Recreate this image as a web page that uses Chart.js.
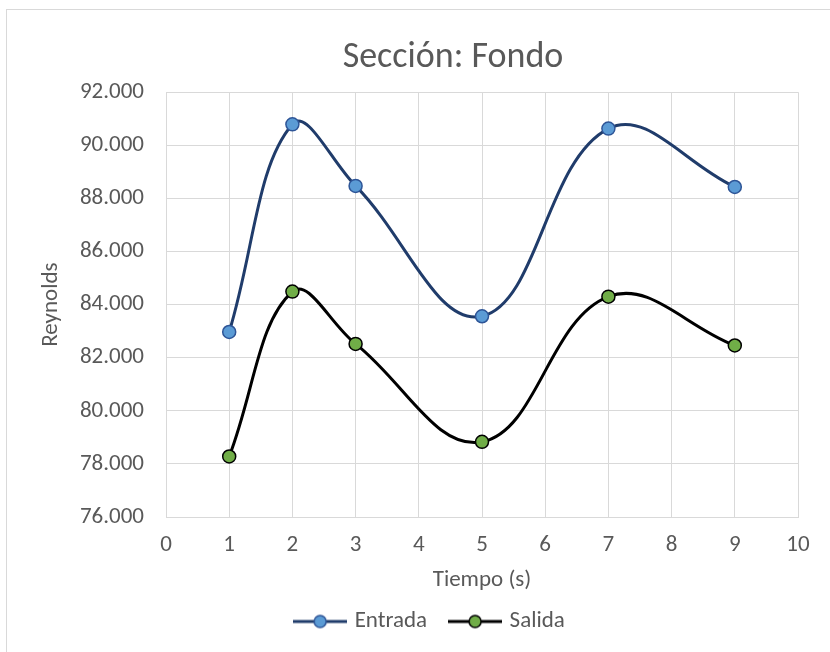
<!DOCTYPE html>
<html lang="es">
<head>
  <meta charset="UTF-8" />
  <title>Sección: Fondo</title>
  <script src="https://cdn.jsdelivr.net/npm/chart.js"></script>
  <style>
    html, body { margin: 0; padding: 0; background: #fff; }
    #wrap { width: 830px; height: 652px; }
  </style>
</head>
<body>
  <div id="wrap"><canvas id="reynoldsChart" width="830" height="652"></canvas></div>

  <script>
    // datos
    const tiempo = [1, 2, 3, 5, 7, 9];
    const entrada = [82970, 90790, 88470, 83560, 90630, 88430];
    const salida = [78280, 84490, 82520, 78830, 84300, 82460];
    const xTicks = [0, 1, 2, 3, 4, 5, 6, 7, 8, 9, 10];
    const yTicks = [76000, 78000, 80000, 82000, 84000, 86000, 88000, 90000, 92000];

    const FONT = "Carlito, Lato, sans-serif";
    const GREY = "#595959";
    const GRID = "#d9d9d9";

    function fmtMiles(v) {
      return String(v).replace(/\B(?=(\d{3})+(?!\d))/g, ".");
    }

    // icono de leyenda: línea con marcador
    function legendIcon(lineColor, fill, stroke) {
      const c = document.createElement("canvas");
      c.width = 54; c.height = 16;
      const g = c.getContext("2d");
      g.strokeStyle = lineColor;
      g.lineWidth = 3;
      g.beginPath(); g.moveTo(0, 8); g.lineTo(54, 8); g.stroke();
      g.beginPath(); g.arc(27, 8, 6, 0, Math.PI * 2);
      g.fillStyle = fill; g.fill();
      g.lineWidth = 1.5; g.strokeStyle = stroke; g.stroke();
      return c;
    }
    const icons = [
      legendIcon("#203c6b", "#5b9bd5", "#2e5597"),
      legendIcon("#000000", "#70ad47", "#000000")
    ];

    const framePlugin = {
      id: "frame",
      afterLayout(chart) {
        // en Excel título y leyenda quedan algo a la derecha del centro
        chart.titleBlock.left += 54;
        chart.titleBlock.right += 54;
        chart.legend.left += 32;
        chart.legend.right += 32;
      },
      beforeDraw(chart) {
        const ctx = chart.ctx;
        ctx.save();
        ctx.strokeStyle = GRID;
        ctx.lineWidth = 1;
        ctx.strokeRect(6.5, 9.5, 1000, 1000);
        ctx.restore();
      }
    };

    const toPoints = ys => tiempo.map((t, i) => ({ x: t, y: ys[i] }));

    new Chart(document.getElementById("reynoldsChart"), {
      type: "line",
      data: {
        datasets: [
          {
            label: "Entrada",
            data: toPoints(entrada),
            borderColor: "#203c6b",
            borderWidth: 3,
            pointBackgroundColor: "#5b9bd5",
            pointBorderColor: "#2e5597",
            pointBorderWidth: 1.5,
            pointRadius: 6.5,
            tension: 0.4
          },
          {
            label: "Salida",
            data: toPoints(salida),
            borderColor: "#000000",
            borderWidth: 3,
            pointBackgroundColor: "#70ad47",
            pointBorderColor: "#000000",
            pointBorderWidth: 1.5,
            pointRadius: 6.5,
            tension: 0.4
          }
        ]
      },
      options: {
        responsive: false,
        animation: false,
        layout: { padding: { left: 0, right: 32, top: 0, bottom: 9 } },
        plugins: {
          tooltip: { enabled: false },
          title: {
            display: true,
            text: "Sección: Fondo",
            color: GREY,
            font: { family: FONT, size: 36, weight: "normal" },
            padding: { top: 36, bottom: 13 }
          },
          legend: {
            position: "bottom",
            labels: {
              color: GREY,
              font: { family: FONT, size: 23 },
              usePointStyle: true,
              pointStyleWidth: 46,
              boxHeight: 16,
              padding: 25,
              generateLabels(chart) {
                return Chart.defaults.plugins.legend.labels.generateLabels(chart)
                  .map(l => ({ ...l, pointStyle: icons[l.datasetIndex] }));
              }
            }
          }
        },
        scales: {
          x: {
            type: "linear",
            min: 0,
            max: 10,
            afterBuildTicks(scale) { scale.ticks = xTicks.map(v => ({ value: v })); },
            afterFit(scale) { scale.height = 68; },
            grid: { color: GRID, drawTicks: false },
            border: { color: GRID },
            ticks: { color: GREY, padding: 14, font: { family: FONT, size: 23 } },
            title: {
              display: true,
              text: "Tiempo (s)",
              color: GREY,
              font: { family: FONT, size: 23 },
              padding: { top: 9, bottom: -9 }
            }
          },
          y: {
            min: 76000,
            max: 92000,
            afterBuildTicks(scale) { scale.ticks = yTicks.map(v => ({ value: v })); },
            afterFit(scale) { scale.width = 166; },
            grid: { color: GRID, drawTicks: false },
            border: { color: GRID },
            ticks: {
              color: GREY,
              padding: 22,
              font: { family: FONT, size: 23 },
              callback: v => fmtMiles(v)
            },
            title: {
              display: true,
              text: "Reynolds",
              color: GREY,
              font: { family: FONT, size: 23 },
              padding: { top: 37, bottom: 0 }
            }
          }
        }
      },
      plugins: [framePlugin]
    });
  </script>
</body>
</html>
